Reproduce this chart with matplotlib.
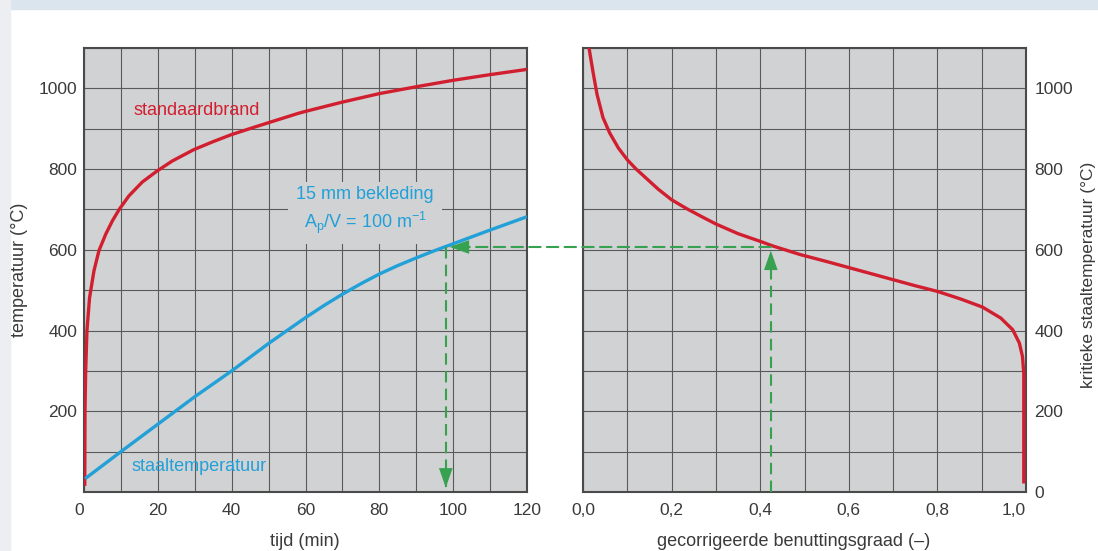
import matplotlib.pyplot as plt
from matplotlib.patches import Rectangle, ConnectionPatch
from matplotlib.ticker import MultipleLocator, FixedLocator

plt.rcParams['font.family'] = ['Liberation Sans', 'DejaVu Sans']
plt.rcParams['mathtext.fontset'] = 'custom'
plt.rcParams['mathtext.rm'] = 'Liberation Sans'
plt.rcParams['mathtext.it'] = 'Liberation Sans:italic'
plt.rcParams['mathtext.default'] = 'regular'

# standaardbrand (gas temperature)
fire_t = [0.2, 0.27, 0.45, 0.8, 1.5, 2.7, 4.05, 5.9, 7.7, 9.6, 12.2, 15.8,
          19.6, 23.9, 29.7, 34.7, 39.8, 45.5, 50, 58, 60, 70, 80, 90, 100,
          110, 120]
fire_T = [15, 199, 299, 400, 481, 548, 598, 639, 672, 701, 734, 768,
          794, 820, 848, 867, 885, 902, 915, 938, 943, 966, 987, 1004, 1020,
          1034, 1047]

# staaltemperatuur with 15 mm cladding
steel_t = [0.3, 10, 20, 30, 40, 50, 60, 65, 70, 75, 80, 85, 90, 95, 100,
           110, 120]
steel_T = [33, 100, 168, 236, 300, 368, 432, 462, 490, 516, 540, 561, 580,
           598, 615, 649, 682]

# kritieke staaltemperatuur vs gecorrigeerde benuttingsgraad
crit_u = [0.0136, 0.0227, 0.0317, 0.045, 0.06, 0.08, 0.1, 0.12, 0.144, 0.17,
          0.2, 0.234, 0.27, 0.3, 0.35, 0.4, 0.43, 0.491, 0.55, 0.6, 0.65,
          0.7, 0.75, 0.8, 0.853, 0.902, 0.943, 0.97, 0.985, 0.992, 0.995,
          0.995]
crit_T = [1100, 1040, 985, 928, 890, 852, 823, 800, 776, 750,
          724, 702, 681, 664, 640, 621, 609, 588, 571, 556, 541,
          526, 511, 497, 478, 458, 431, 402, 369, 336, 294,
          21]

# reading example (green arrows)
read_t = 98.0
read_T = 607
read_u = 0.424

left_xticks = [0, 20, 40, 60, 80, 100, 120]
left_yticks = [200, 400, 600, 800, 1000]
right_xticks = [0.0, 0.2, 0.4, 0.6, 0.8, 1.0]
right_xlabels = ['0,0', '0,2', '0,4', '0,6', '0,8', '1,0']
right_yticks = [0, 200, 400, 600, 800, 1000]

RED = '#d21f30'
BLUE = '#22a0d8'
GREEN = '#36a24f'
BG = '#d1d2d4'
GRID = '#5a5a5a'
TXT = '#3a3a3a'

W, H = 1098, 551
fig = plt.figure(figsize=(W / 100, H / 100), dpi=100)
fig.patch.set_facecolor('white')
fig.add_artist(Rectangle((0, 1 - 9 / H), 1, 9 / H, transform=fig.transFigure,
                         color='#dbe5ee', zorder=-2))
fig.add_artist(Rectangle((0, 0), 10 / W, 1, transform=fig.transFigure,
                         color='#eceef1', zorder=-2))

ax1 = fig.add_axes([84 / W, 1 - 492 / H, (527 - 84) / W, (492 - 48) / H])
ax2 = fig.add_axes([583 / W, 1 - 492 / H, (1026 - 583) / W, (492 - 48) / H])

for ax in (ax1, ax2):
    ax.set_facecolor(BG)
    ax.set_ylim(0, 1100)
    ax.yaxis.set_minor_locator(MultipleLocator(100))
    ax.set_axisbelow(True)
    ax.grid(True, which='both', color=GRID, lw=0.8)
    for s in ax.spines.values():
        s.set_color('#4a4a4a')
        s.set_linewidth(1.5)
    ax.tick_params(which='both', length=0, labelsize=12.5, labelcolor=TXT)

# left panel
ax1.set_xlim(0, 120)
ax1.xaxis.set_major_locator(FixedLocator(left_xticks))
ax1.xaxis.set_minor_locator(MultipleLocator(10))
ax1.yaxis.set_major_locator(FixedLocator(left_yticks))
ax1.tick_params(axis='x', pad=8)
ax1.tick_params(axis='y', pad=5)
ax1.get_xticklabels()[0].set_horizontalalignment('right')

ax1.plot(fire_t, fire_T, color=RED, lw=2.4, solid_capstyle='butt',
         solid_joinstyle='round', zorder=4)
ax1.plot(steel_t, steel_T, color=BLUE, lw=2.4, solid_capstyle='butt',
         solid_joinstyle='round', zorder=4)

ax1.text(13.3, 946, 'standaardbrand', color=RED, fontsize=13, va='center')
ax1.text(13.0, 62, 'staaltemperatuur', color=BLUE, fontsize=13, va='center')
ax1.text(76.2, 697, '15 mm bekleding\nA$_{p}$/V = 100 m$^{-1}$', color=BLUE,
         fontsize=13, ha='center', va='center', multialignment='center',
         linespacing=1.35,
         bbox=dict(boxstyle='square,pad=0.45', fc=BG, ec='none'))

# right panel
ax2.set_xlim(0, 1.0)
ax2.xaxis.set_major_locator(FixedLocator(right_xticks))
ax2.set_xticklabels(right_xlabels)
ax2.xaxis.set_minor_locator(MultipleLocator(0.1))
ax2.yaxis.set_major_locator(FixedLocator(right_yticks))
ax2.yaxis.tick_right()
ax2.tick_params(axis='x', pad=8)
ax2.tick_params(axis='y', pad=6)
ax2.get_xticklabels()[-1].set_horizontalalignment('right')

ax2.plot(crit_u, crit_T, color=RED, lw=2.4, solid_capstyle='butt',
         solid_joinstyle='round', zorder=4)

# green reading arrows
dash = dict(color=GREEN, lw=1.5, dashes=(5.5, 3), zorder=5)
ax1.plot([read_t, read_t], [read_T, 12], **dash)
ax2.plot([read_u, read_u], [0, read_T - 20], **dash)
con = ConnectionPatch(xyA=(read_u, read_T), coordsA=ax2.transData,
                      xyB=(read_t + 2, read_T), coordsB=ax1.transData,
                      color=GREEN, lw=1.5, linestyle=(0, (5.5, 3)), zorder=5)
fig.add_artist(con)
head = dict(arrowstyle='-|>,head_length=1.0,head_width=0.35', color=GREEN,
            lw=0.01, mutation_scale=14)
ax1.annotate('', xy=(read_t + 0.3, read_T), xytext=(read_t + 4.2, read_T),
             arrowprops=head, zorder=6)
ax1.annotate('', xy=(read_t, 4), xytext=(read_t, 45), arrowprops=head, zorder=6)
ax2.annotate('', xy=(read_u, read_T - 2), xytext=(read_u, read_T - 40),
             arrowprops=head, zorder=6)

# axis labels
fig.text(20 / W, 1 - 270 / H, 'temperatuur (°C)', rotation=90, fontsize=13,
         color=TXT, ha='center', va='center')
fig.text(1089 / W, 1 - 275 / H, 'kritieke staaltemperatuur (°C)', rotation=90,
         fontsize=12.5, color=TXT, ha='center', va='center')
fig.text(305 / W, 1 - 542 / H, 'tijd (min)', fontsize=13, color=TXT,
         ha='center', va='center')
fig.text(794 / W, 1 - 542 / H, 'gecorrigeerde benuttingsgraad (–)', fontsize=13,
         color=TXT, ha='center', va='center')

fig.savefig('out.png', dpi=100)
